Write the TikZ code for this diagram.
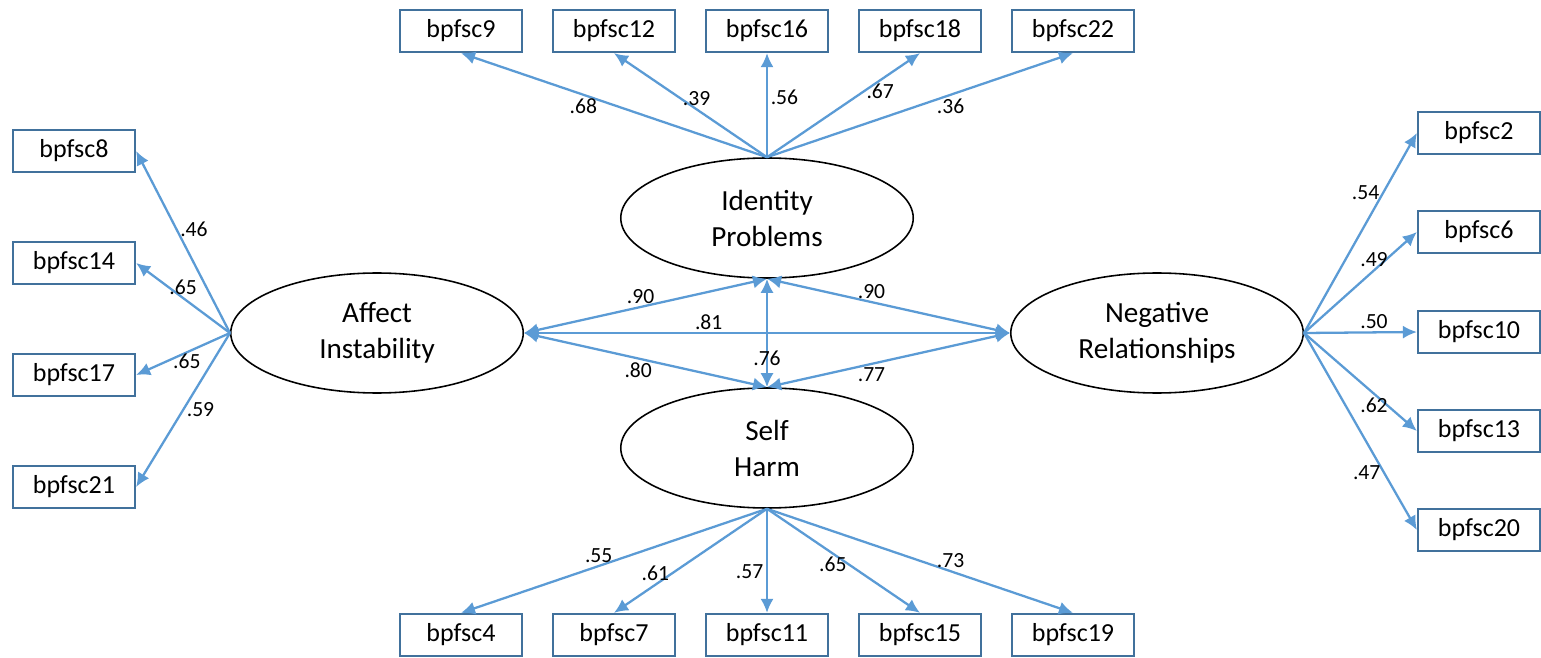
\documentclass[tikz,border=0pt]{standalone}
\usepackage{fontspec}
\setmainfont{Carlito}
\usetikzlibrary{shapes.geometric,arrows.meta}
\definecolor{lineblue}{RGB}{91,155,213}
\definecolor{boxblue}{RGB}{65,113,156}
\tikzset{
	item/.style={draw=boxblue, line width=1.3pt, minimum width=2.44cm, minimum height=0.84cm, inner sep=0pt, font=\fontsize{14.8}{17.5}\selectfont},
	factor/.style={draw, ellipse, line width=0.9pt, minimum width=5.85cm, minimum height=2.4cm, align=center, font=\fontsize{16.6}{20.5}\selectfont},
	load/.style={draw=lineblue, line width=1.3pt, -{Latex[length=8pt,width=7.5pt]}},
	cov/.style={draw=lineblue, line width=1.3pt, {Latex[length=8pt,width=7.5pt]}-{Latex[length=8pt,width=7.5pt]}},
	est/.style={font=\fontsize{12.3}{14}\selectfont, inner sep=1.5pt}
}
\begin{document}
\begin{tikzpicture}[x=0.02cm, y=-0.02cm]
		\useasboundingbox (0, 0) rectangle (1541, 658);

		% latent factors
		\node[factor] (IP) at (767, 218) {Identity\\Problems};
		\node[factor] (SH) at (767, 448) {Self\\Harm};
		\node[factor] (AI) at (377, 333) {Affect\\Instability};
		\node[factor] (NR) at (1157, 333) {Negative\\Relationships};

		% items
		\node[item] (b9) at (461, 31) {bpfsc9};
		\node[item] (b12) at (614, 31) {bpfsc12};
		\node[item] (b16) at (767, 31) {bpfsc16};
		\node[item] (b18) at (920, 31) {bpfsc18};
		\node[item] (b22) at (1073, 31) {bpfsc22};

		\node[item] (b8) at (74, 151) {bpfsc8};
		\node[item] (b14) at (74, 263) {bpfsc14};
		\node[item] (b17) at (74, 375) {bpfsc17};
		\node[item] (b21) at (74, 487) {bpfsc21};

		\node[item] (b2) at (1479, 133) {bpfsc2};
		\node[item] (b6) at (1479, 232) {bpfsc6};
		\node[item] (b10) at (1479, 332) {bpfsc10};
		\node[item] (b13) at (1479, 431) {bpfsc13};
		\node[item] (b20) at (1479, 530) {bpfsc20};

		\node[item] (b4) at (461, 635) {bpfsc4};
		\node[item] (b7) at (614, 635) {bpfsc7};
		\node[item] (b11) at (767, 635) {bpfsc11};
		\node[item] (b15) at (920, 635) {bpfsc15};
		\node[item] (b19) at (1073, 635) {bpfsc19};

		% loadings
		\draw[load] (IP.north) -- node[est, pos=0.6, below] {.68} (b9.south);
		\draw[load] (IP.north) -- node[est, pos=0.46, above] {.39} (b12.south);
		\draw[load] (IP.north) -- node[est, pos=0.58, right] {.56} (b16.south);
		\draw[load] (IP.north) -- node[est, pos=0.74, below] {.67} (b18.south);
		\draw[load] (IP.north) -- node[est, pos=0.6, below] {.36} (b22.south);

		\draw[load] (AI.west) -- node[est, pos=0.57, right] {.46} (b8.east);
		\draw[load] (AI.west) -- node[est, pos=0.5, above] {.65} (b14.east);
		\draw[load] (AI.west) -- node[est, pos=0.46, below, inner sep=0pt] {.65} (b17.east);
		\draw[load] (AI.west) -- node[est, pos=0.5, right] {.59} (b21.east);

		\draw[load] (NR.east) -- node[est, pos=0.7, left] {.54} (b2.west);
		\draw[load] (NR.east) -- node[est, pos=0.62, above] {.49} (b6.west);
		\draw[load] (NR.east) -- node[est, pos=0.62, above] {.50} (b10.west);
		\draw[load] (NR.east) -- node[est, pos=0.62, below] {.62} (b13.west);
		\draw[load] (NR.east) -- node[est, pos=0.71, left] {.47} (b20.west);

		\draw[load] (SH.south) -- node[est, pos=0.55, above] {.55} (b4.north);
		\draw[load] (SH.south) -- node[est, pos=0.73, above] {.61} (b7.north);
		\draw[load] (SH.south) -- node[est, pos=0.6, left] {.57} (b11.north);
		\draw[load] (SH.south) -- node[est, pos=0.43, below] {.65} (b15.north);
		\draw[load] (SH.south) -- node[est, pos=0.6, above] {.73} (b19.north);

		% correlations
		\draw[cov] (AI.east) -- node[est, pos=0.48, above] {.90} (IP.south);
		\draw[cov] (AI.east) -- node[est, pos=0.38, above] {.81} (NR.west);
		\draw[cov] (IP.south) -- node[est, pos=0.43, above] {.90} (NR.west);
		\draw[cov] (IP.south) -- node[est, pos=0.73, inner sep=0pt] {.76} (SH.north);
		\draw[cov] (AI.east) -- node[est, pos=0.47, below] {.80} (SH.north);
		\draw[cov] (SH.north) -- node[est, pos=0.43, below] {.77} (NR.west);
	\end{tikzpicture}
\end{document}
